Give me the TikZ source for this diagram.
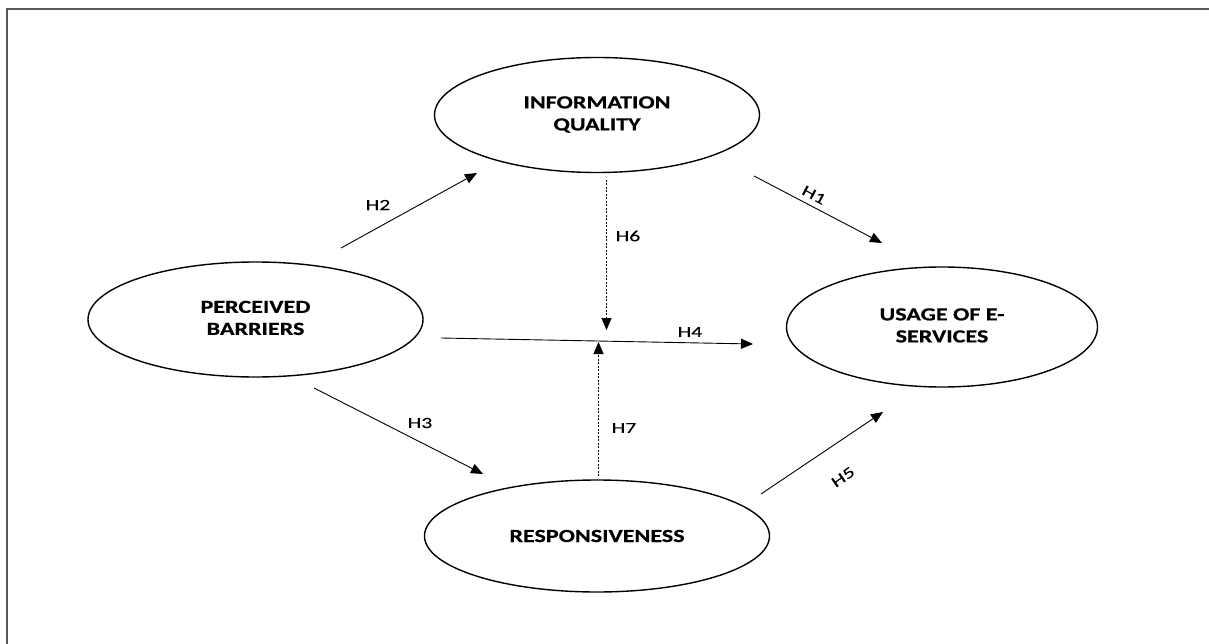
\documentclass[tikz,border=0pt]{standalone}
\usepackage{fontspec}
\setmainfont{Carlito}
\newfontfamily\nodefont[FakeStretch=1.3,FakeBold=0.6]{Carlito Bold}
\newfontfamily\labfont[FakeStretch=1.4,FakeBold=0.2]{Carlito}
\usetikzlibrary{shapes.geometric,arrows.meta}
\tikzset{
  construct/.style={draw=black, line width=1.4pt, ellipse, inner sep=0pt, align=center,
    font=\nodefont\fontsize{18.5}{22}\selectfont},
  link/.style={draw=black, line width=0.9pt, -{Triangle[length=12pt,width=10pt]}},
  modlink/.style={link, dash pattern=on 2pt off 1.5pt},
  hlab/.style={inner sep=0pt, font=\labfont\fontsize{15.5}{18}\selectfont},
  frameline/.style={draw=black!65, line width=1.6pt}
}
\newcommand{\twolines}[2]{\raisebox{5pt}{\begin{tabular}{@{}c@{}}#1\\#2\end{tabular}}}
\begin{document}
\begin{tikzpicture}[x=1pt,y=-1pt]
\useasboundingbox (0,0) rectangle (1209,644);
\draw[frameline] (7,644) -- (7,9) -- (1209,9);

\node[construct, minimum width=325pt, minimum height=115pt] (iq) at (597,115) {\twolines{INFORMATION}{QUALITY}};
\node[construct, minimum width=335pt, minimum height=115pt] (pb) at (255.5,319.5) {\twolines{PERCEIVED}{BARRIERS}};
\node[construct, minimum width=311pt, minimum height=120pt] (use) at (942,327) {\twolines{USAGE OF E-}{SERVICES}};
\node[construct, minimum width=345pt, minimum height=112pt] (resp) at (597,536) {RESPONSIVENESS};

% free ends of the connectors
\coordinate (h2s) at (341,248);  \coordinate (h2e) at (477,173);
\coordinate (h3s) at (314,388);  \coordinate (h3e) at (483,474);
\coordinate (h4s) at (441,338);  \coordinate (h4e) at (753,344);
\coordinate (h1s) at (754,176);  \coordinate (h1e) at (882,243);
\coordinate (h5s) at (761,494);  \coordinate (h5e) at (883,412);
\coordinate (h6s) at (606.5,180); \coordinate (h6e) at (606.5,330);
\coordinate (h7s) at (598.5,476); \coordinate (h7e) at (598.5,342);

\draw[link] (h2s) -- (h2e);
\draw[link] (h3s) -- (h3e);
\draw[link] (h4s) -- (h4e);
\draw[link] (h1s) -- (h1e);
\draw[link] (h5s) -- (h5e);
\draw[modlink] (h6s) -- (h6e);
\draw[modlink] (h7s) -- (h7e);

\node[hlab] (l2) at (378,205) {H2};
\node[hlab] (l3) at (420,423) {H3};
\node[hlab] (l4) at (690,332) {H4};
\node[hlab] (l6) at (628,236) {H6};
\node[hlab] (l7) at (624,428) {H7};
\node[hlab, rotate=-28] (l1) at (814,195) {H1};
\node[hlab, rotate=35] (l5) at (843,477) {H5};
\end{tikzpicture}
\end{document}
